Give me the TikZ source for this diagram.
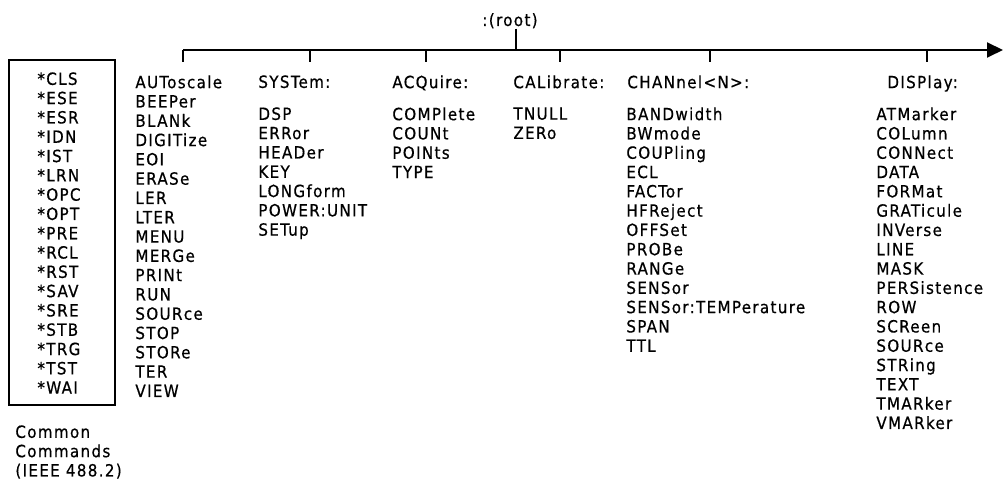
\documentclass[tikz,border=0pt]{standalone}
\usepackage{fontspec}
\usepackage{tikz}
\usetikzlibrary{arrows.meta}
\newfontfamily\plotfont{DejaVu Sans Condensed}[LetterSpace=8, FakeBold=0.6]

\tikzset{
  cmdlist/.style={anchor=north west, inner sep=0pt, align=left,
    font=\plotfont\fontsize{8.4}{9.65}\selectfont},
  busline/.style={line width=1pt, -{Triangle[length=8pt, width=7.5pt]}},
  tickline/.style={line width=0.6pt}
}

\begin{document}
\begin{tikzpicture}[x=0.5pt, y=-0.5pt]
  \useasboundingbox (0,0) rectangle (1003,480);

  % root and the command bus
  \node[cmdlist, anchor=base] (root) at (510,26) {:(root)};
  \coordinate (busstart) at (183,50);
  \coordinate (busend) at (1003,50);
  \coordinate (rootfoot) at (516,50);
  \draw[busline] (busstart) -- (busend);
  \draw[tickline] (rootfoot |- root.south) -- (rootfoot);
  \foreach \x [count=\i] in {183,310,426,560,710,927} {
    \coordinate (top\i) at (\x,50);
    \coordinate (bot\i) at (\x,62);
    \draw[tickline] (top\i) -- (bot\i);
  }

  % common commands
  \draw[line width=1pt] (9,60) rectangle (115,405);
  \node[cmdlist] (common) at (37,72) {*CLS\\*ESE\\*ESR\\*IDN\\*IST\\*LRN\\*OPC\\*OPT\\*PRE\\*RCL\\*RST\\*SAV\\*SRE\\*STB\\*TRG\\*TST\\*WAI};
  \node[cmdlist] (caption) at (15,425) {Common\\Commands\\(IEEE 488.2)};

  % root level commands
  \node[cmdlist] (rootcmds) at (135,75) {AUToscale\\BEEPer\\BLANk\\DIGITize\\EOI\\ERASe\\LER\\LTER\\MENU\\MERGe\\PRINt\\RUN\\SOURce\\STOP\\STORe\\TER\\VIEW};

  % subsystems
  \node[cmdlist] (system) at (258,75) {SYSTem:};
  \node[cmdlist] (acquire) at (392,75) {ACQuire:};
  \node[cmdlist] (calibrate) at (513,75) {CALibrate:};
  \node[cmdlist] (channel) at (627,75) {CHANnel<N>:};
  \node[cmdlist] (display) at (887,75) {DISPlay:};

  \node[cmdlist] (systemcmds) at (258,107) {DSP\\ERRor\\HEADer\\KEY\\LONGform\\POWER:UNIT\\SETup};
  \node[cmdlist] (acquirecmds) at (392,107) {COMPlete\\COUNt\\POINts\\TYPE};
  \node[cmdlist] (calibratecmds) at (513,107) {TNULL\\ZERo};
  \node[cmdlist] (channelcmds) at (626,107) {BANDwidth\\BWmode\\COUPling\\ECL\\FACTor\\HFReject\\OFFSet\\PROBe\\RANGe\\SENSor\\SENSor:TEMPerature\\SPAN\\TTL};
  \node[cmdlist] (displaycmds) at (876,107) {ATMarker\\COLumn\\CONNect\\DATA\\FORMat\\GRATicule\\INVerse\\LINE\\MASK\\PERSistence\\ROW\\SCReen\\SOURce\\STRing\\TEXT\\TMARker\\VMARker};
\end{tikzpicture}
\end{document}
